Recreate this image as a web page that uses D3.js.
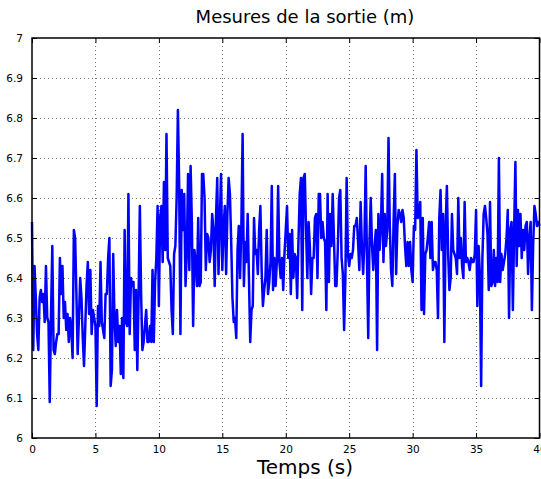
<!DOCTYPE html>
<html><head><meta charset="utf-8">
<script src="https://cdn.jsdelivr.net/npm/d3@7"></script>
<style>body{margin:0;background:#fff}svg{display:block;font-family:"DejaVu Sans",sans-serif}</style>
</head><body><svg id="c" width="541" height="479"></svg>
<script>
const title = "Mesures de la sortie (m)";
const xLabel = "Temps (s)";
const xTicks = [0,5,10,15,20,25,30,35,40];
const yTicks = [6,6.1,6.2,6.3,6.4,6.5,6.6,6.7,6.8,6.9,7];
const timeStep = 0.1;
const seg1 = [6.54,6.22,6.43,6.35,6.26,6.22,6.35,6.37,6.34,6.36,6.29,6.43,6.30,6.29,6.09,6.31,6.48,6.22,6.21,6.24,6.26,6.26,6.45,6.36,6.43,6.30,6.34,6.27,6.31,6.24,6.30,6.27,6.20,6.52];
const seg2 = [6.50,6.36,6.21,6.30,6.40,6.35,6.25,6.18,6.28,6.38,6.44,6.31,6.42,6.26,6.32,6.30,6.28,6.08,6.33,6.28,6.44,6.29,6.27,6.25,6.36,6.36,6.45,6.50,6.13,6.17,6.46,6.30,6.23,6.32];
const seg3 = [6.24,6.28,6.16,6.30,6.15,6.52,6.29,6.28,6.61,6.26,6.40,6.38,6.39,6.22,6.37,6.17,6.35,6.58,6.36,6.22,6.24,6.28,6.32,6.24,6.24,6.28,6.24,6.42,6.24,6.39,6.45,6.58,6.33,6.55];
const seg4 = [6.58,6.44,6.64,6.47,6.76,6.45,6.44,6.43,6.32,6.26,6.46,6.48,6.60,6.82,6.63,6.26,6.62,6.52,6.61,6.38,6.46,6.66,6.42,6.68,6.54,6.28,6.47,6.44,6.38,6.55,6.38,6.39,6.66];
const seg5 = [6.66,6.60,6.42,6.51,6.50,6.44,6.47,6.56,6.52,6.38,6.55,6.65,6.41,6.54,6.66,6.42,6.53,6.58,6.41,6.56,6.65,6.61,6.49,6.35,6.29,6.30,6.25,6.47,6.53,6.40,6.53,6.76,6.38,6.49,6.44];
const seg6 = [6.56,6.40,6.24,6.32,6.33,6.55,6.46,6.47,6.41,6.52,6.58,6.42,6.33,6.37,6.40,6.52,6.36,6.39,6.44,6.63,6.37,6.45,6.38,6.44,6.63,6.44,6.40,6.45,6.37,6.46,6.52,6.58,6.45,6.51];
const seg7 = [6.36,6.52,6.40,6.46,6.45,6.35,6.49,6.61,6.65,6.32,6.65,6.66,6.52,6.40,6.54,6.48,6.36,6.45,6.45,6.55,6.56,6.40,6.61,6.61,6.50,6.54,6.50,6.49,6.32,6.61,6.39,6.56];
const seg8 = [6.48,6.61,6.50,6.38,6.38,6.47,6.60,6.62,6.45,6.41,6.27,6.40,6.65,6.46,6.43,6.46,6.45,6.47,6.53,6.53,6.55,6.49,6.42,6.59,6.48,6.41,6.49,6.68,6.45,6.25,6.49,6.60,6.48,6.42,6.48];
const seg9 = [6.52,6.22,6.56,6.47,6.53,6.66,6.44,6.56,6.48,6.52,6.75,6.53,6.42,6.38,6.54,6.66,6.41,6.53,6.57,6.56,6.54,6.57,6.55,6.48,6.43,6.49,6.43,6.49,6.42,6.39,6.53,6.52,6.72,6.55];
const seg10 = [6.56,6.59,6.32,6.55,6.31,6.46,6.47,6.50,6.54,6.45,6.54,6.42,6.44,6.44,6.42,6.30,6.55,6.62,6.47,6.56,6.24,6.53,6.63,6.46,6.37,6.40,6.56,6.47,6.46,6.45,6.41,6.60,6.45,6.50];
const seg11 = [6.43,6.40,6.59,6.44,6.45,6.44,6.42,6.45,6.44,6.44,6.46,6.57,6.33,6.48,6.41,6.13,6.45,6.56,6.58,6.55,6.51,6.37,6.59,6.38,6.39,6.47,6.38,6.45,6.39,6.70,6.39,6.46,6.42];
const seg12 = [6.44,6.46,6.50,6.57,6.30,6.52,6.54,6.32,6.52,6.69,6.43,6.57,6.48,6.56,6.45,6.52,6.47,6.53,6.54,6.41,6.50,6.54,6.32,6.48,6.58,6.56,6.53,6.54,6.53];

const values = [].concat(seg1,seg2,seg3,seg4,seg5,seg6,seg7,seg8,seg9,seg10,seg11,seg12);
const data = values.map((v,i)=>({t:+(i*timeStep).toFixed(2), v}));

const svg = d3.select("#c");
const L=32, R=539.5, T=38, B=438;
const x = d3.scaleLinear().domain([0,40]).range([L,R]);
const y = d3.scaleLinear().domain([6,7]).range([B,T]);

// grid
const g = svg.append("g");
g.selectAll(".gx").data(xTicks.slice(1,-1)).join("line")
 .attr("x1",d=>Math.round(x(d))+0.5).attr("x2",d=>Math.round(x(d))+0.5).attr("y1",T).attr("y2",B)
 .attr("stroke","#000").attr("stroke-opacity",0.55).attr("stroke-width",1).attr("stroke-dasharray","1,3");
g.selectAll(".gy").data(yTicks.slice(1,-1)).join("line")
 .attr("y1",d=>Math.round(y(d))+0.5).attr("y2",d=>Math.round(y(d))+0.5).attr("x1",L).attr("x2",R)
 .attr("stroke","#000").attr("stroke-opacity",0.55).attr("stroke-width",1).attr("stroke-dasharray","1,3");

// line
svg.append("path").datum(data)
 .attr("d", d3.line().x(d=>x(d.t)).y(d=>y(d.v)))
 .attr("fill","none").attr("stroke","#0000ff").attr("stroke-width",2.5).attr("stroke-linejoin","round");

// axes (inward ticks)
const fs = 10.5;
const ax = svg.append("g").attr("transform",`translate(0,${B})`)
 .call(d3.axisBottom(x).tickValues(xTicks).tickSize(-5).tickPadding(8).tickFormat(d3.format("d")));
const axT = svg.append("g").attr("transform",`translate(0,${T})`)
 .call(d3.axisTop(x).tickValues(xTicks).tickSize(-5).tickFormat(""));
const ay = svg.append("g").attr("transform",`translate(${L},0)`)
 .call(d3.axisLeft(y).tickValues(yTicks).tickSize(-5).tickPadding(9).tickFormat(d=>d3.format("")(+d.toFixed(1))));
const ayR = svg.append("g").attr("transform",`translate(${R},0)`)
 .call(d3.axisRight(y).tickValues(yTicks).tickSize(-5).tickFormat(""));
[ax,axT,ay,ayR].forEach(a=>{
  a.selectAll(".domain").remove();
  a.selectAll("line").attr("stroke","#000");
  a.selectAll("text").attr("font-size",fs).attr("font-family","DejaVu Sans, sans-serif").attr("fill","#000");
});
svg.append("rect").attr("x",L).attr("y",T).attr("width",R-L).attr("height",B-T)
 .attr("fill","none").attr("stroke","#000").attr("stroke-width",1.5);

svg.append("text").attr("x",305).attr("y",23).attr("text-anchor","middle")
 .attr("font-size",18).text(title);
svg.append("text").attr("x",305).attr("y",474).attr("text-anchor","middle")
 .attr("font-size",20).text(xLabel);
</script></body></html>
